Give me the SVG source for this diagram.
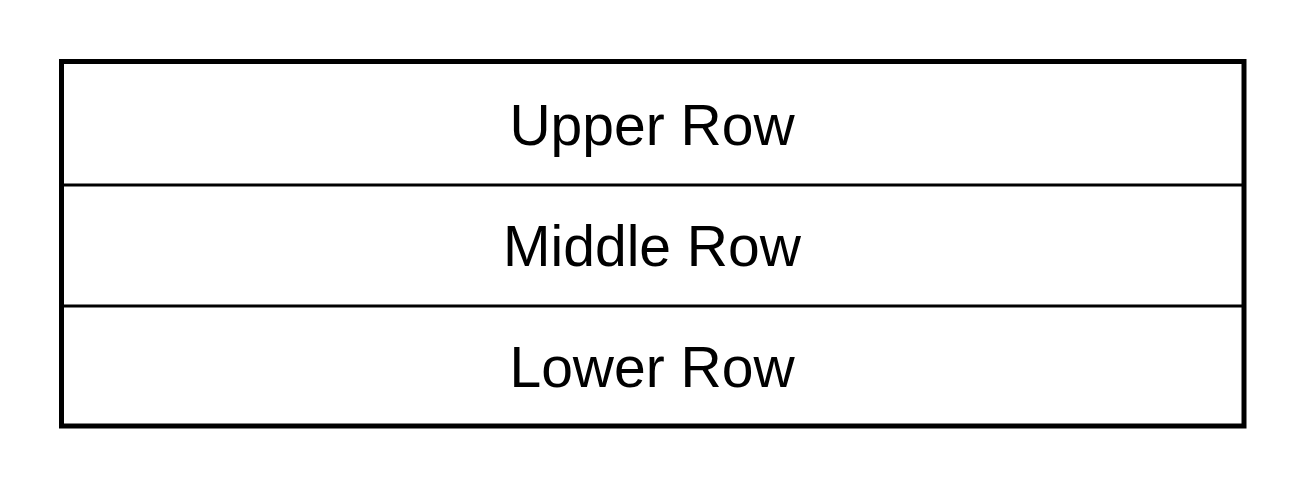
<svg xmlns="http://www.w3.org/2000/svg" width="1301" height="490" viewBox="0 0 1301 490">
<style>
.lbl{font-family:"Liberation Sans",Arial,sans-serif;font-size:57px;fill:#000;text-anchor:middle}
.div{stroke:#000;stroke-width:3;fill:none}
</style>
<rect x="0" y="0" width="1301" height="490" fill="#fff"/>
<g id="upper"><text class="lbl" x="652" y="145">Upper Row</text></g>
<g id="middle"><text class="lbl" x="652" y="266">Middle Row</text></g>
<g id="lower"><text class="lbl" x="652" y="387">Lower Row</text></g>
<g id="frame">
<line class="div" x1="62" y1="185" x2="1243" y2="185"/>
<line class="div" x1="62" y1="306" x2="1243" y2="306"/>
<rect x="61.5" y="61.5" width="1182.5" height="364.5" fill="none" stroke="#000" stroke-width="5"/>
</g>
</svg>
